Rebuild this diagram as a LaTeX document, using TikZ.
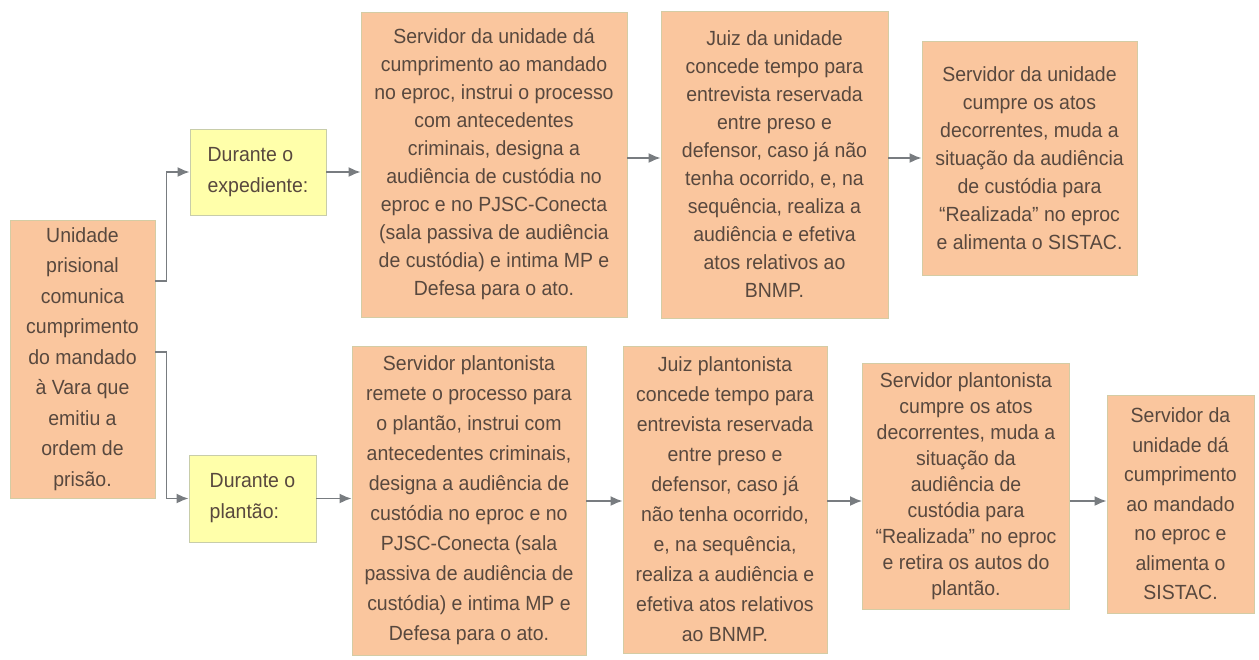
\documentclass[tikz,border=0pt]{standalone}
\usepackage{fontspec}
\setmainfont{Liberation Sans}[FakeStretch=0.95]
\usetikzlibrary{arrows.meta}
\definecolor{caixa}{RGB}{250,198,158}
\definecolor{bordacaixa}{RGB}{212,204,164}
\definecolor{amarelo}{RGB}{255,255,170}
\definecolor{bordaamarelo}{RGB}{200,205,170}
\definecolor{texto}{RGB}{88,72,62}
\definecolor{seta}{RGB}{120,124,128}
\begin{document}
\begin{tikzpicture}[x = 1pt, y = -1pt,
	etapa/.style = {draw = bordacaixa, fill = caixa, line width = .8pt, align = center, text = texto, inner sep = 0pt, font = \fontsize{20.5}{28}\selectfont},
	turno/.style = {draw = bordaamarelo, fill = amarelo, line width = .8pt, align = left, text = texto, inner sep = 0pt, font = \fontsize{20.5}{31}\selectfont},
	seta/.style = {draw = seta, line width = 1.8pt, -{Latex[length = 12pt, width = 10pt]}}]
	\useasboundingbox (0,0) rectangle (1259,659);
	\coordinate (up) at (0,158);
	\coordinate (low) at (0,501);
	% origem
	\node[etapa, minimum width = 145pt, minimum height = 278pt, font = \fontsize{20.5}{30.5}\selectfont] (A) at (82.5,359) {Unidade\\prisional\\comunica\\cumprimento\\do mandado\\à Vara que\\emitiu a\\ordem de\\prisão.};
	\node[turno, minimum width = 136pt, minimum height = 86pt] (Y1) at (258,172) {Durante o\\expediente:};
	\node[turno, minimum width = 127pt, minimum height = 87pt] (Y2) at (252.5,498.5) {Durante o\\plantão:};
	% expediente
	\node[etapa, minimum width = 266pt, minimum height = 305pt] (B1) at (494,164.5) {Servidor da unidade dá\\cumprimento ao mandado\\no eproc, instrui o processo\\com antecedentes\\criminais, designa a\\audiência de custódia no\\eproc e no PJSC-Conecta\\(sala passiva de audiência\\de custódia) e intima MP e\\Defesa para o ato.};
	\node[etapa, minimum width = 227pt, minimum height = 307pt] (C1) at (774.5,164.5) {Juiz da unidade\\concede tempo para\\entrevista reservada\\entre preso e\\defensor, caso já não\\tenha ocorrido, e, na\\sequência, realiza a\\audiência e efetiva\\atos relativos ao\\BNMP.};
	\node[etapa, minimum width = 215pt, minimum height = 234pt] (D1) at (1029.5,158) {Servidor da unidade\\cumpre os atos\\decorrentes, muda a\\situação da audiência\\de custódia para\\“Realizada” no eproc\\e alimenta o SISTAC.};
	% plantão
	\node[etapa, minimum width = 234pt, minimum height = 309pt, font = \fontsize{20.5}{30}\selectfont] (B2) at (469,500.5) {Servidor plantonista\\remete o processo para\\o plantão, instrui com\\antecedentes criminais,\\designa a audiência de\\custódia no eproc e no\\PJSC-Conecta (sala\\passiva de audiência de\\custódia) e intima MP e\\Defesa para o ato.};
	\node[etapa, minimum width = 204pt, minimum height = 307pt, font = \fontsize{20.5}{30}\selectfont] (C2) at (725,499.5) {Juiz plantonista\\concede tempo para\\entrevista reservada\\entre preso e\\defensor, caso já\\não tenha ocorrido,\\e, na sequência,\\realiza a audiência e\\efetiva atos relativos\\ao BNMP.};
	\node[etapa, minimum width = 207pt, minimum height = 246pt, font = \fontsize{20.5}{26}\selectfont] (D2) at (966,486) {Servidor plantonista\\cumpre os atos\\decorrentes, muda a\\situação da\\audiência de\\custódia para\\“Realizada” no eproc\\e retira os autos do\\plantão.};
	\node[etapa, minimum width = 147pt, minimum height = 218pt, font = \fontsize{20.5}{29.5}\selectfont] (E2) at (1180.5,504) {Servidor da\\unidade dá\\cumprimento\\ao mandado\\no eproc e\\alimenta o\\SISTAC.};
	% setas
	\draw[seta] (A.east |- 0,281) -- ++(11,0) |- (Y1.west);
	\draw[seta] (A.east |- 0,352) -- ++(11,0) |- (Y2.west);
	\draw[seta] (Y1.east) -- (Y1.east -| B1.west);
	\draw[seta] (B1.east |- up) -- (C1.west |- up);
	\draw[seta] (C1.east |- up) -- (D1.west |- up);
	\draw[seta] (Y2.east) -- (Y2.east -| B2.west);
	\draw[seta] (B2.east |- low) -- (C2.west |- low);
	\draw[seta] (C2.east |- low) -- (D2.west |- low);
	\draw[seta] (D2.east |- low) -- (E2.west |- low);
\end{tikzpicture}
\end{document}
